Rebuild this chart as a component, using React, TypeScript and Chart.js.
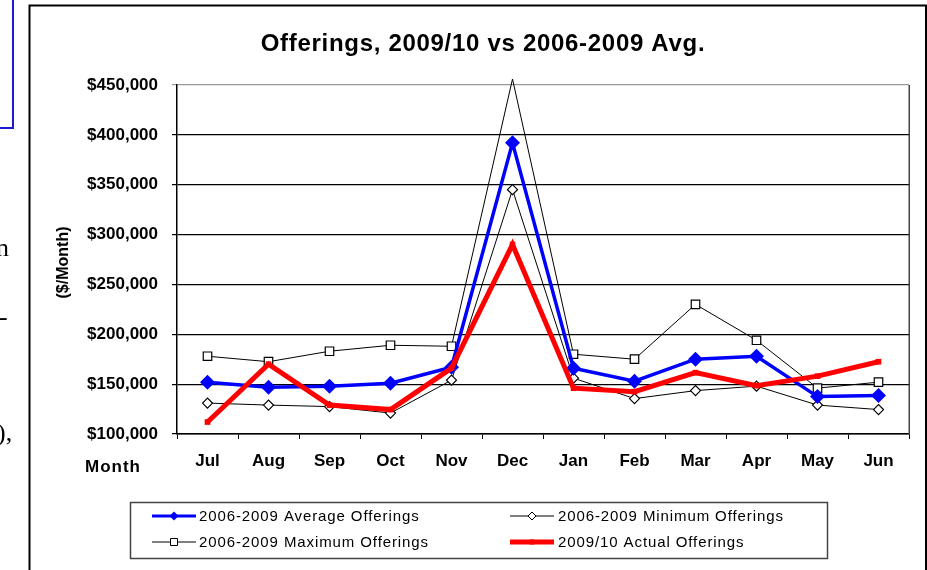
import React, { useEffect, useRef } from 'react';
import { Chart, registerables } from 'chart.js';

Chart.register(...registerables);

const months = ['Jul', 'Aug', 'Sep', 'Oct', 'Nov', 'Dec', 'Jan', 'Feb', 'Mar', 'Apr', 'May', 'Jun'];
const avgOfferings = [152000, 147000, 148000, 151000, 167000, 392000, 166000, 153000, 175000, 178000, 137500, 138500];
const minOfferings = [131000, 129000, 127500, 121000, 154000, 345000, 156000, 135500, 143500, 148000, 129000, 124500];
const maxOfferings = [178000, 172500, 183000, 189000, 188000, 456000, 180000, 175000, 230000, 194000, 146000, 152000];
const actualOfferings = [112000, 170000, 129000, 124500, 166000, 290000, 146000, 142500, 161500, 148500, 158000, 172500];

const yMin = 100000;
const yMax = 450000;
const yStep = 50000;

const chartTitle = 'Offerings, 2009/10 vs 2006-2009 Avg.';
const yTitle = '($/Month)';
const xTitle = 'Month';
const seriesNames = [
  '2006-2009 Average Offerings',
  '2006-2009 Minimum Offerings',
  '2006-2009 Maximum Offerings',
  '2009/10 Actual Offerings',
];

const FONT = '"Liberation Sans", Arial, sans-serif';

function diamond(ctx: CanvasRenderingContext2D, x: number, y: number, r: number, fill: string, stroke: string, lw: number) {
  ctx.beginPath();
  ctx.moveTo(x, y - r);
  ctx.lineTo(x + r, y);
  ctx.lineTo(x, y + r);
  ctx.lineTo(x - r, y);
  ctx.closePath();
  ctx.fillStyle = fill;
  ctx.fill();
  if (lw > 0) {
    ctx.lineWidth = lw;
    ctx.strokeStyle = stroke;
    ctx.stroke();
  }
}

function square(ctx: CanvasRenderingContext2D, x: number, y: number, h: number, fill: string, stroke: string, lw: number) {
  ctx.beginPath();
  ctx.rect(x - h, y - h, 2 * h, 2 * h);
  ctx.fillStyle = fill;
  ctx.fill();
  if (lw > 0) {
    ctx.lineWidth = lw;
    ctx.strokeStyle = stroke;
    ctx.stroke();
  }
}

const decorPlugin = {
  id: 'decor',
  beforeDraw(chart: any) {
    const ctx = chart.ctx as CanvasRenderingContext2D;
    ctx.save();
    ctx.fillStyle = '#ffffff';
    ctx.fillRect(29, 5, 897, 570);
    ctx.strokeStyle = '#000';
    ctx.lineWidth = 2;
    ctx.strokeRect(29.5, 5.5, 896.5, 600);
    ctx.restore();
  },
  afterDraw(chart: any) {
    const ctx = chart.ctx as CanvasRenderingContext2D;
    const area = chart.chartArea;
    ctx.save();
    // right plot border
    ctx.strokeStyle = '#444';
    ctx.lineWidth = 1.5;
    ctx.beginPath();
    ctx.moveTo(area.right + 0.25, area.top);
    ctx.lineTo(area.right + 0.25, area.bottom);
    ctx.stroke();

    // title
    ctx.fillStyle = '#000';
    ctx.textAlign = 'center';
    ctx.textBaseline = 'middle';
    ctx.font = `bold 24px ${FONT}`;
    (ctx as any).letterSpacing = '0.7px';
    ctx.fillText(chartTitle, 483, 44);
    (ctx as any).letterSpacing = '0px';

    // y title
    ctx.save();
    ctx.translate(64, (area.top + area.bottom) / 2 + 3);
    ctx.rotate(-Math.PI / 2);
    ctx.font = `bold 16px ${FONT}`;
    ctx.fillText(yTitle, 0, 0);
    ctx.restore();

    // x title
    ctx.textAlign = 'left';
    ctx.font = `bold 17px ${FONT}`;
    (ctx as any).letterSpacing = '1px';
    ctx.fillText(xTitle, 85, 467);
    (ctx as any).letterSpacing = '0px';

    // legend
    ctx.strokeStyle = '#444';
    ctx.lineWidth = 1.5;
    ctx.strokeRect(130.5, 502.5, 697, 56);

    const rows = [516, 542];
    const cols = [[152, 196, 199], [510, 554, 558]];
    const entries = [
      { c: 0, r: 0, color: '#0000ff', lw: 3, mk: 'dia', fill: '#0000ff', size: 4.5 },
      { c: 1, r: 0, color: '#000000', lw: 1, mk: 'dia', fill: '#ffffff', size: 4 },
      { c: 0, r: 1, color: '#000000', lw: 1, mk: 'sq', fill: '#ffffff', size: 3.5 },
      { c: 1, r: 1, color: '#ff0000', lw: 5, mk: 'sq', fill: '#ff0000', size: 2.5 },
    ];
    entries.forEach((e, i) => {
      const [x0, x1, tx] = cols[e.c];
      const y = rows[e.r];
      ctx.strokeStyle = e.color;
      ctx.lineWidth = e.lw;
      ctx.beginPath();
      ctx.moveTo(x0, y);
      ctx.lineTo(x1, y);
      ctx.stroke();
      const mx = (x0 + x1) / 2;
      if (e.mk === 'dia') diamond(ctx, mx, y, e.size, e.fill, '#000', e.fill === '#ffffff' ? 1 : 0);
      else square(ctx, mx, y, e.size, e.fill, '#000', e.fill === '#ffffff' ? 1 : 0);
      ctx.fillStyle = '#000';
      ctx.font = `15px ${FONT}`;
      (ctx as any).letterSpacing = '0.9px';
      ctx.textAlign = 'left';
      ctx.textBaseline = 'middle';
      ctx.fillText(seriesNames[i], tx, y + 1);
      (ctx as any).letterSpacing = '0px';
    });
    ctx.restore();
  },
};

export default function App() {
  const ref = useRef<HTMLCanvasElement | null>(null);

  useEffect(() => {
    if (!ref.current) return;
    const chart = new Chart(ref.current, {
      type: 'line',
      data: {
        labels: months,
        datasets: [
          {
            label: seriesNames[3],
            data: actualOfferings,
            borderColor: '#ff0000',
            backgroundColor: '#ff0000',
            borderWidth: 5,
            pointStyle: 'rect',
            pointRadius: 4,
            pointBorderWidth: 0,
            tension: 0,
          },
          {
            label: seriesNames[0],
            data: avgOfferings,
            borderColor: '#0000ff',
            backgroundColor: '#0000ff',
            borderWidth: 3.5,
            pointStyle: 'rectRot',
            pointRadius: 7.5,
            pointBorderWidth: 0,
            tension: 0,
          },
          {
            label: seriesNames[1],
            data: minOfferings,
            borderColor: '#000000',
            backgroundColor: '#ffffff',
            borderWidth: 1,
            pointStyle: 'rectRot',
            pointRadius: 5,
            pointBorderWidth: 1.2,
            tension: 0,
          },
          {
            label: seriesNames[2],
            data: maxOfferings,
            borderColor: '#000000',
            backgroundColor: '#ffffff',
            borderWidth: 1,
            pointStyle: 'rect',
            pointRadius: (c: any) => (c.raw > yMax ? 0 : 6),
            pointBorderWidth: 1.2,
            tension: 0,
            clip: false as any,
          },
        ],
      },
      options: {
        responsive: false,
        animation: false,
        devicePixelRatio: 1,
        layout: { padding: { top: 85, left: 0, right: 18, bottom: 0 } },
        plugins: {
          legend: { display: false },
          title: { display: false },
          tooltip: { enabled: false },
        },
        scales: {
          x: {
            offset: true,
            afterFit: (s: any) => { s.height = 136; },
            grid: {
              display: true,
              drawOnChartArea: false,
              offset: true,
              tickLength: 5,
              color: '#000',
            },
            border: { display: true, color: '#000', width: 1.5 },
            ticks: {
              color: '#000',
              font: { family: FONT, size: 17, weight: 'bold' },
              padding: 12,
              maxRotation: 0,
              autoSkip: false,
            },
          },
          y: {
            min: yMin,
            max: yMax,
            afterFit: (s: any) => { s.width = 177; },
            grid: {
              color: (c: any) => (c.tick && c.tick.value === yMax ? '#999' : '#000'),
              lineWidth: 1.2,
              tickLength: 5,
            },
            border: { display: true, color: '#000', width: 1.5 },
            ticks: {
              stepSize: yStep,
              color: '#000',
              font: { family: FONT, size: 17, weight: 'bold' },
              padding: 14,
              callback: (v: any) => '$' + Number(v).toLocaleString('en-US'),
            },
          },
        },
      },
      plugins: [decorPlugin],
    } as any);
    return () => chart.destroy();
  }, []);

  const serif: React.CSSProperties = {
    position: 'absolute',
    fontFamily: '"Liberation Serif", "Times New Roman", serif',
    fontSize: '26px',
    lineHeight: '26px',
    color: '#000',
    zIndex: 2,
    whiteSpace: 'nowrap',
  };

  return (
    <div style={{ position: 'absolute', left: 0, top: 0, width: 927, height: 570, overflow: 'hidden', background: '#fff' }}>
      <div style={{ position: 'absolute', left: -10, top: -10, width: 20, height: 135, border: '2px solid #1a1ad8', zIndex: 2 }} />
      <div style={{ ...serif, left: -4, top: 235 }}>n</div>
      <div style={{ ...serif, left: -1, top: 304 }}>-</div>
      <div style={{ ...serif, left: -3, top: 420 }}>),</div>
      <canvas ref={ref} width={927} height={570} style={{ position: 'absolute', left: 0, top: 0, display: 'block' }} />
    </div>
  );
}
